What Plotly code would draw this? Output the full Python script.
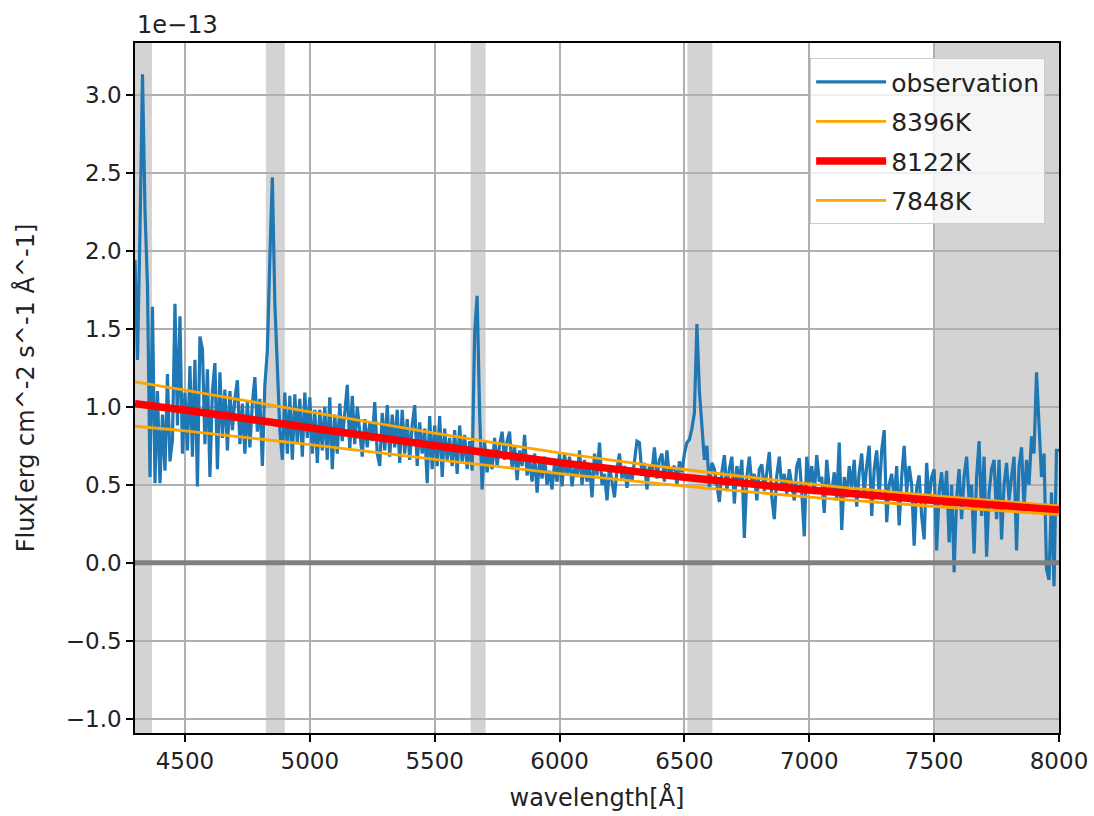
import numpy as np
import plotly.graph_objects as go

# Observed spectrum, sampled every 10 Å from 4300 to 8000 Å (flux in units of 1e-13)
WAVE_START = 4300
WAVE_STEP = 10
flux_obs = [
    1.94, 1.30, 2.13, 3.13, 2.26, 1.77, 0.55, 1.64, 0.51, 1.10,
    0.51, 0.95, 0.59, 1.21, 0.65, 0.79, 1.66, 0.88, 1.58, 0.70,
    1.09, 0.72, 1.26, 0.68, 1.30, 0.49, 1.45, 1.37, 0.76, 1.24,
    0.55, 1.10, 1.28, 0.60, 1.22, 0.80, 1.11, 0.72, 1.10, 0.85,
    1.05, 1.17, 0.76, 1.02, 0.70, 1.04, 0.74, 1.02, 1.19, 0.84,
    1.05, 0.62, 1.14, 1.36, 1.95, 2.47, 1.66, 1.24, 0.85, 0.66,
    1.09, 0.70, 1.07, 0.66, 1.08, 0.76, 1.05, 0.68, 1.09, 0.80,
    1.06, 0.70, 0.98, 0.64, 0.98, 0.72, 1.00, 0.66, 1.06, 0.60,
    0.95, 0.70, 1.02, 0.78, 0.98, 1.14, 0.72, 1.07, 0.76, 1.00,
    0.84, 0.68, 0.92, 0.74, 0.90, 0.78, 1.03, 0.70, 0.62, 0.96,
    0.72, 1.01, 0.68, 0.95, 0.74, 0.98, 0.64, 0.98, 0.70, 0.92,
    0.66, 0.88, 1.01, 0.62, 0.90, 0.70, 0.86, 0.51, 0.94, 0.60,
    0.88, 0.62, 0.94, 0.55, 0.86, 0.66, 0.80, 0.62, 0.85, 0.57,
    0.88, 0.64, 0.82, 0.60, 0.78, 0.59, 1.47, 1.71, 0.96, 0.47,
    0.78, 0.58, 0.72, 0.60, 0.80, 0.62, 0.76, 0.84, 0.66, 0.78,
    0.84, 0.60, 0.75, 0.53, 0.72, 0.62, 0.82, 0.56, 0.66, 0.52,
    0.70, 0.45, 0.66, 0.54, 0.68, 0.50, 0.59, 0.47, 0.64, 0.52,
    0.70, 0.49, 0.70, 0.56, 0.68, 0.49, 0.62, 0.55, 0.72, 0.50,
    0.66, 0.52, 0.62, 0.42, 0.70, 0.56, 0.77, 0.50, 0.57, 0.40,
    0.62, 0.52, 0.42, 0.60, 0.70, 0.54, 0.62, 0.48, 0.60, 0.52,
    0.66, 0.78, 0.77, 0.56, 0.64, 0.47, 0.62, 0.58, 0.74, 0.54,
    0.66, 0.70, 0.52, 0.72, 0.55, 0.60, 0.62, 0.50, 0.65, 0.58,
    0.70, 0.77, 0.79, 0.86, 0.96, 1.53, 1.10, 0.85, 0.66, 0.75,
    0.47, 0.64, 0.60, 0.50, 0.39, 0.58, 0.69, 0.46, 0.60, 0.68,
    0.38, 0.62, 0.52, 0.66, 0.16, 0.55, 0.68, 0.50, 0.57, 0.40,
    0.60, 0.63, 0.46, 0.58, 0.71, 0.42, 0.28, 0.56, 0.68, 0.48,
    0.57, 0.44, 0.60, 0.50, 0.40, 0.62, 0.67, 0.45, 0.17, 0.68,
    0.50, 0.62, 0.44, 0.69, 0.52, 0.55, 0.32, 0.66, 0.48, 0.45,
    0.58, 0.40, 0.77, 0.21, 0.55, 0.42, 0.62, 0.48, 0.66, 0.36,
    0.58, 0.70, 0.44, 0.62, 0.75, 0.30, 0.60, 0.72, 0.42, 0.72,
    0.85, 0.26, 0.50, 0.57, 0.40, 0.62, 0.24, 0.55, 0.75, 0.45,
    0.62, 0.50, 0.11, 0.48, 0.56, 0.30, 0.15, 0.64, 0.40, 0.55,
    0.60, 0.08, 0.45, 0.58, 0.35, 0.59, 0.13, 0.50, -0.06, 0.42,
    0.60, 0.28, 0.55, 0.68, 0.40, 0.50, 0.06, 0.55, 0.78, 0.30,
    0.68, 0.04, 0.45, 0.60, 0.66, 0.28, 0.66, 0.15, 0.50, 0.64,
    0.40, 0.55, 0.68, 0.08, 0.62, 0.74, 0.35, 0.66, 0.50, 0.81,
    0.70, 1.22, 0.93, 0.55, 0.70, -0.04, -0.11, 0.45, -0.15, 0.72,
    0.72,
]
wavelength = WAVE_START + WAVE_STEP * np.arange(len(flux_obs))

# Blackbody fits at three temperatures (flux in units of 1e-13)
model_wave = [4300, 4500, 5000, 5500, 6000, 6500, 7000, 7500, 8000]
flux_8396K = [1.160, 1.107, 0.967, 0.831, 0.705, 0.598, 0.506, 0.430, 0.365]
flux_8122K = [1.020, 0.979, 0.865, 0.751, 0.642, 0.548, 0.467, 0.399, 0.339]
flux_7848K = [0.875, 0.845, 0.757, 0.663, 0.572, 0.491, 0.421, 0.361, 0.309]

# Masked wavelength windows (Å)
masked_windows = [(4300, 4368), (4824, 4900), (5644, 5704), (6512, 6612), (7500, 8000)]

x_ticks = [4500, 5000, 5500, 6000, 6500, 7000, 7500, 8000]
y_ticks = [-1.0, -0.5, 0.0, 0.5, 1.0, 1.5, 2.0, 2.5, 3.0]

FONT = "DejaVu Sans"
TEXT = "#222222"

fig = go.Figure()

series = [
    ("observation", wavelength, flux_obs, dict(color="#1f77b4", width=3.2)),
    ("8396K", model_wave, flux_8396K, dict(color="orange", width=2.8, shape="spline")),
    ("8122K", model_wave, flux_8122K, dict(color="red", width=7.5, shape="spline")),
    ("7848K", model_wave, flux_7848K, dict(color="orange", width=2.8, shape="spline")),
]
for name, xs, ys, line in series:
    # one legend group per trace so tracegroupgap spaces the entries
    fig.add_trace(go.Scatter(x=xs, y=ys, mode="lines", name=name, legendgroup=name,
                             line=line))

for lo, hi in masked_windows:
    fig.add_shape(type="rect", xref="x", yref="paper", x0=lo, x1=hi, y0=0, y1=1,
                  fillcolor="#d3d3d3", line_width=0, layer="below")

# zero-flux reference line
fig.add_shape(type="line", xref="paper", yref="y", x0=0, x1=1, y0=0, y1=0,
              line=dict(color="gray", width=5), layer="above")

# offset label for the y axis
fig.add_annotation(text="1e\u221213", xref="paper", yref="paper", x=0, y=1,
                   xanchor="left", yanchor="bottom", yshift=2, showarrow=False,
                   font=dict(family=FONT, size=24, color=TEXT))

axis_common = dict(
    showgrid=True, gridcolor="#b0b0b0", gridwidth=1.5,
    showline=True, linecolor="black", linewidth=1.5, mirror=True,
    ticks="outside", ticklen=7, tickwidth=1.5, tickcolor="black",
    zeroline=False, automargin=False,
    tickfont=dict(family=FONT, size=23, color=TEXT),
)

fig.update_xaxes(range=[4300, 8000], tickvals=x_ticks,
                 title=dict(text="wavelength[Å]", font=dict(family=FONT, size=24, color=TEXT),
                            standoff=16),
                 **axis_common)
fig.update_yaxes(range=[-1.09, 3.33], tickvals=y_ticks, tickformat=".1f",
                 title=dict(text="Flux[erg cm^-2 s^-1 Å^-1]",
                            font=dict(family=FONT, size=24, color=TEXT), standoff=24),
                 **axis_common)

fig.update_layout(
    width=1094, height=816,
    margin=dict(l=135, r=35, t=43, b=83),
    plot_bgcolor="white", paper_bgcolor="white",
    font=dict(family=FONT, color=TEXT),
    legend=dict(x=0.985, y=0.978, xanchor="right", yanchor="top",
                bgcolor="rgba(255,255,255,0.8)", bordercolor="#cccccc", borderwidth=1,
                font=dict(family=FONT, size=25, color=TEXT),
                itemwidth=70, tracegroupgap=4),
    showlegend=True,
)

fig.write_html("out.html")
